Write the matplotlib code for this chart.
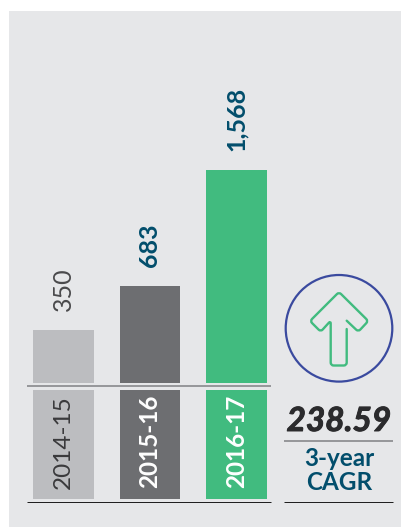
import matplotlib
matplotlib.use("Agg")
from matplotlib import pyplot as plt
from matplotlib import patheffects
from matplotlib.patches import Circle, PathPatch
from matplotlib.path import Path

plt.rcParams['font.family'] = ['Lato', 'DejaVu Sans']

W, H = 402, 527

periods = ['2014-15', '2015-16', '2016-17']
value_labels = ['350', '683', '1,568']
# bar lengths as drawn, the printed bars are not quite to scale
bar_heights = [388, 713, 1568]
bar_colors = ['#bcbdc0', '#6d6e71', '#41bb7f']
period_text_colors = ['#3a3a3c', '#ffffff', '#ffffff']
period_weights = ['normal', 'bold', 'bold']
label_colors = ['#4a4a4c', '#024e6c', '#024e6c']
label_weights = ['normal', 'bold', 'bold']
cagr_value = '238.59'
cagr_lines = ['3-year', 'CAGR']

bg = '#e6e7e9'
navy = '#024e6c'


def px_axes(fig, x0, y0, x1, y1):
    # axes placed by pixel box, y measured from the top of the image
    return fig.add_axes([x0 / W, 1 - y1 / H, (x1 - x0) / W, (y1 - y0) / H])


def rounded_path(points, r=3.0):
    # open polyline, inner points get a small quadratic corner
    verts = [points[0]]
    codes = [Path.MOVETO]
    for i in range(1, len(points) - 1):
        px, py = points[i - 1]
        cx, cy = points[i]
        nx, ny = points[i + 1]
        d1 = ((cx - px) ** 2 + (cy - py) ** 2) ** 0.5
        d2 = ((nx - cx) ** 2 + (ny - cy) ** 2) ** 0.5
        verts.append((cx + (px - cx) * r / d1, cy + (py - cy) * r / d1))
        codes.append(Path.LINETO)
        verts.append((cx, cy))
        codes.append(Path.CURVE3)
        verts.append((cx + (nx - cx) * r / d2, cy + (ny - cy) * r / d2))
        codes.append(Path.CURVE3)
    verts.append(points[-1])
    codes.append(Path.LINETO)
    return Path(verts, codes)


fig = plt.figure(figsize=(W / 100, H / 100), dpi=100, facecolor='white')

# Grey panel and free drawing layer in image pixels
canvas = fig.add_axes([0, 0, 1, 1])
canvas.set_xlim(0, W)
canvas.set_ylim(H, 0)
canvas.axis('off')
canvas.add_patch(plt.Rectangle((9, 11), W - 9, H - 11, color=bg, lw=0))

# Bars
px_per_slot = 86.5
xlim = ((27 - 63.5) / px_per_slot, (271 - 63.5) / px_per_slot)
top = px_axes(fig, 27, 60, 271, 382.7)
top.patch.set_alpha(0)
xs = list(range(len(periods)))
top.bar(xs, bar_heights, width=0.705, color=bar_colors)
top.set_xlim(xlim)
top.set_ylim(0, 1568 * (382.7 - 60) / 212.7)
top.axis('off')
for x, h, s, c, w in zip(xs, bar_heights, value_labels, label_colors, label_weights):
    top.annotate(s, (x, h), xytext=(0, 14), textcoords='offset points', rotation=90,
                 ha='center', va='bottom', fontsize=18, color=c, fontweight=w)

# Period strips
low = px_axes(fig, 27, 390, 271, 498.7)
low.patch.set_alpha(0)
low.bar(xs, [1, 1, 1], width=0.705, color=bar_colors)
low.set_xlim(xlim)
low.set_ylim(0, 1)
low.axis('off')
for x, s, c, w in zip(xs, periods, period_text_colors, period_weights):
    low.text(x, 0.525, s, rotation=90, ha='center', va='center', fontsize=17.5, color=c, fontweight=w)

# Rules
canvas.plot([27, 271], [386, 386], color='#808184', lw=1.1, solid_capstyle='butt')
canvas.plot([27, 271], [502.3, 502.3], color='#1a1a1a', lw=0.7, solid_capstyle='butt')
canvas.plot([284.3, 393.3], [441, 441], color='#808184', lw=1.1, solid_capstyle='butt')
canvas.plot([284.3, 393.3], [502.3, 502.3], color='#1a1a1a', lw=0.7, solid_capstyle='butt')

# Circle and arrow icon
canvas.add_patch(Circle((339, 328.3), 53.3, fill=False, ec='#3a4a9f', lw=1.6))
arrow = [(346.7, 320.7), (358.3, 331.7), (368.3, 321), (339, 292), (310, 321), (320.7, 331.7),
         (330.7, 320.7), (330.7, 365.5), (346.7, 365.5), (346.7, 329)]
canvas.add_patch(PathPatch(rounded_path(arrow), fill=False, ec='#41bb7f', lw=1.7,
                           capstyle='round', joinstyle='round'))

# CAGR text
big = canvas.text(339, 421.5, cagr_value, ha='center', va='center', fontsize=24, fontweight='bold',
                  fontstyle='italic', color='#2b2b2d')
big.set_path_effects([patheffects.withStroke(linewidth=0.7, foreground='#2b2b2d')])
canvas.text(339, 458, cagr_lines[0], ha='center', va='center', fontsize=17.5, fontweight='bold', color=navy)
canvas.text(339, 483, cagr_lines[1], ha='center', va='center', fontsize=17.5, fontweight='bold', color=navy)

fig.savefig('out.png', dpi=100)
